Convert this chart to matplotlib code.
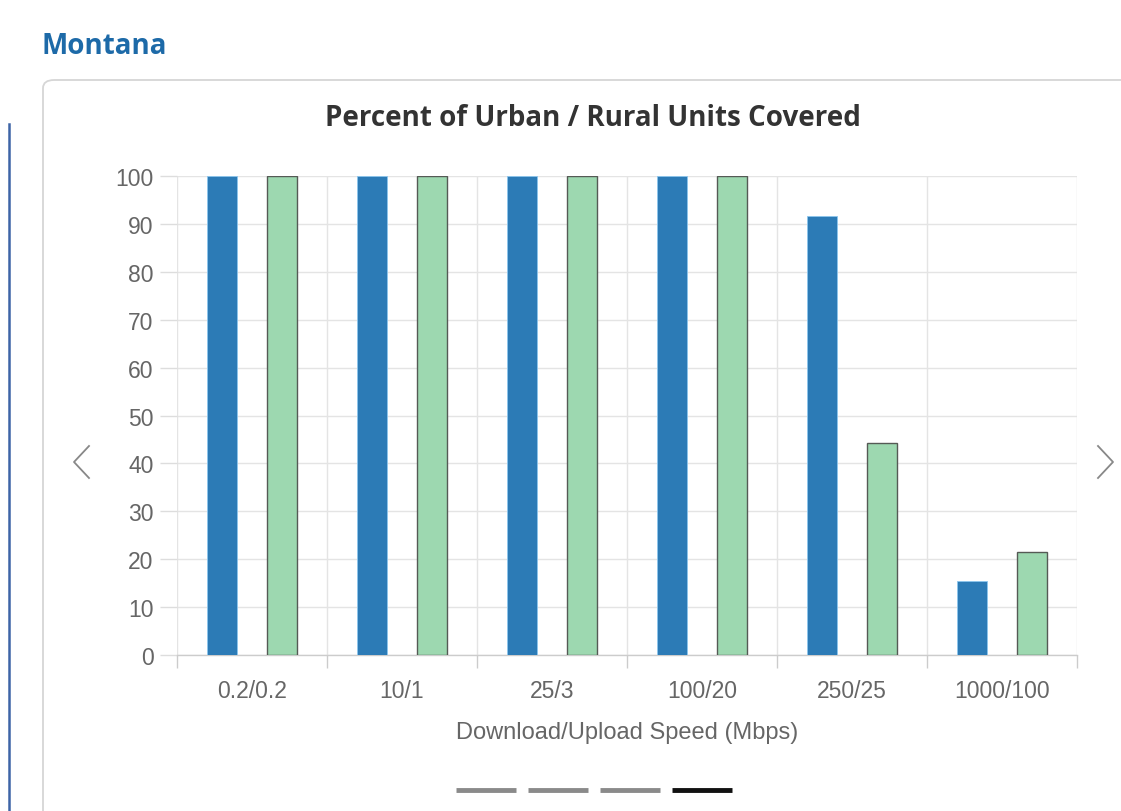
import matplotlib
matplotlib.use("Agg")
import matplotlib.pyplot as plt
from matplotlib.patches import FancyBboxPatch
from matplotlib.lines import Line2D
import numpy as np

# данные
speeds = ["0.2/0.2", "10/1", "25/3", "100/20", "250/25", "1000/100"]
urban = [100, 100, 100, 100, 91.6, 15.4]
rural = [100, 100, 100, 100, 44.2, 21.5]
y_ticks = list(range(0, 101, 10))

W, H = 1121, 812
fig = plt.figure(figsize=(W / 100, H / 100), dpi=100)
fig.patch.set_facecolor("white")


def fx(px):
    return px / W


def fy(py):
    return 1 - py / H


# карточка с рамкой
card = FancyBboxPatch((fx(43), fy(830)), fx(1140) - fx(43), fy(81) - fy(830),
                      boxstyle="round,pad=0,rounding_size=0.01",
                      transform=fig.transFigure, facecolor="white",
                      edgecolor="#d6d6d6", linewidth=1.3, zorder=-1)
fig.patches.append(card)
fig.add_artist(Line2D([fx(8.5), fx(8.5)], [fy(125), fy(812)], color="#3d64a6",
                      linewidth=1.8, transform=fig.transFigure))

fig.text(fx(42), fy(46), "Montana", fontsize=20, fontweight="bold",
         family="Open Sans", color="#1d6aa8", ha="left", va="center")
fig.text(fx(593), fy(119), "Percent of Urban / Rural Units Covered", fontsize=20,
         fontweight="bold", family="Open Sans", color="#333333", ha="center", va="center")

ax = fig.add_axes([fx(177), fy(656), fx(1077) - fx(177), fy(177) - fy(656)])
ax.set_zorder(2)
ax.patch.set_alpha(0)
x = np.arange(len(speeds))
ax.bar(x - 0.2, urban, width=0.2, color="#2c7bb6", edgecolor="#8cc6ee",
       linewidth=0.6, zorder=3)
ax.bar(x + 0.2, rural, width=0.2, color="#9dd8b0", edgecolor="#555a55",
       linewidth=1.0, zorder=3)

ax.set_xlim(-0.5, len(speeds) - 0.5)
ax.set_ylim(0, 100)
ax.set_yticks(y_ticks)
ax.set_xticks(x)
ax.set_xticklabels(speeds)
ax.set_xticks(np.arange(-0.5, len(speeds)), minor=True)

for s in ["top", "right", "left"]:
    ax.spines[s].set_visible(False)
ax.spines["bottom"].set_color("#cccccc")
ax.spines["bottom"].set_linewidth(1.0)

ax.grid(axis="y", color="#e4e4e4", linewidth=1.0, zorder=0)
ax.grid(axis="x", which="minor", color="#e4e4e4", linewidth=1.0, zorder=0)
ax.tick_params(axis="x", which="major", length=0, pad=17, labelsize=16.5,
               labelcolor="#666666")
ax.tick_params(axis="x", which="minor", length=9.5, color="#cccccc", width=1.0)
ax.tick_params(axis="y", length=12, color="#dddddd", width=1.0, pad=5,
               labelsize=16.5, labelcolor="#666666")
for lab in ax.get_xticklabels() + ax.get_yticklabels():
    lab.set_family("Liberation Sans")

ax.set_xlabel("Download/Upload Speed (Mbps)", fontsize=17, color="#666666",
              family="Liberation Sans", labelpad=14)

# стрелки карусели
arrow_kw = dict(color="#888888", linewidth=1.3, transform=fig.transFigure)
fig.add_artist(Line2D([fx(89), fx(74), fx(89)], [fy(447), fy(463), fy(479)], **arrow_kw))
fig.add_artist(Line2D([fx(1098), fx(1113), fx(1098)], [fy(447), fy(463), fy(479)], **arrow_kw))

# индикаторы страниц
for i, left in enumerate([456, 528, 600, 672]):
    col = "#111111" if i == 3 else "#8a8a8a"
    fig.add_artist(Line2D([fx(left), fx(left + 60)], [fy(791), fy(791)], color=col,
                          linewidth=3.5, solid_capstyle="butt",
                          transform=fig.transFigure))

fig.savefig("out.png", dpi=100)
